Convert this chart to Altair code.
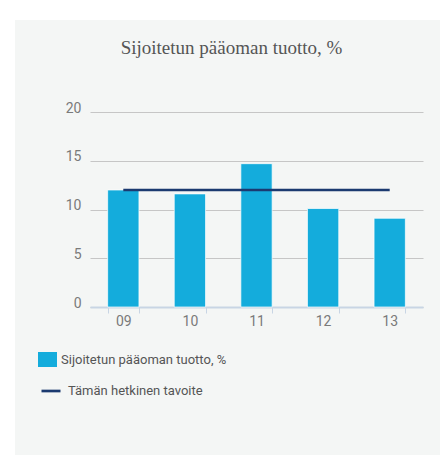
import altair as alt
import pandas as pd

years = ["09", "10", "11", "12", "13"]
roce = [12.0, 11.6, 14.7, 10.1, 9.1]
target = [12.0, 12.0, 12.0, 12.0, 12.0]
bar_name = "Sijoitetun pääoman tuotto, %"
line_name = "Tämän hetkinen tavoite"
title_text = "Sijoitetun pääoman tuotto, %"

df = pd.DataFrame({"year": years, "value": roce, "target": target,
                   "s_bar": bar_name, "s_line": line_name})

BAR = "#14acdc"
NAVY = "#1b3a70"
PANEL = "#f4f6f5"
GREY = "#7a7a7a"
TXT = "#555555"

x = alt.X("year:N", sort=years, title=None,
          scale=alt.Scale(paddingInner=0.53, paddingOuter=0.265),
          axis=alt.Axis(labelAngle=0, labelFont="Roboto", labelFontSize=14,
                        labelColor=GREY, labelPadding=1, domainColor="#c8d5e4",
                        domainWidth=2, tickColor="#c8d5e4", tickSize=6,
                        tickWidth=1, tickBand="extent", grid=False))

y = alt.Y("value:Q", title=None,
          scale=alt.Scale(domain=[0, 20]),
          axis=alt.Axis(values=[0, 5, 10, 15, 20], labelFont="Roboto",
                        labelFontSize=14, labelColor=GREY, labelPadding=9,
                        labelBaseline="alphabetic", domain=False, ticks=False,
                        grid=True, gridColor="#c6c6c6", gridWidth=1))

# white strips so the grey panel starts where the reference's does
strip_top = alt.Chart(df).mark_rect(color="white").encode(
    x=alt.value(-82), x2=alt.value(350), y=alt.value(-104), y2=alt.value(-92))
strip_left = alt.Chart(df).mark_rect(color="white").encode(
    x=alt.value(-82), x2=alt.value(-75), y=alt.value(-104), y2=alt.value(343))

bars = alt.Chart(df).mark_bar(stroke="white", strokeWidth=1, strokeOpacity=0.7).encode(
    x=x, y=y,
    fill=alt.Fill("s_bar:N", title=None,
                  scale=alt.Scale(domain=[bar_name], range=[BAR]),
                  legend=alt.Legend(orient="none", legendX=-50, legendY=240,
                                    symbolType="M-1.27,-1H1.27V1H-1.27Z",
                                    symbolSize=225, symbolStrokeWidth=0,
                                    labelFont="Roboto", labelFontSize=13,
                                    labelLimit=400,
                                    labelColor=TXT, labelOffset=6)))

line = alt.Chart(df).mark_line(strokeWidth=2.7).encode(
    x=x, y=alt.Y("target:Q"),
    stroke=alt.Stroke("s_line:N", title=None,
                      scale=alt.Scale(domain=[line_name], range=[NAVY]),
                      legend=alt.Legend(orient="none", legendX=-50, legendY=268,
                                        symbolType="stroke", symbolSize=361,
                                        symbolStrokeWidth=2.7,
                                        labelFont="Roboto", labelFontSize=13,
                                        labelLimit=400,
                                        labelColor=TXT, labelOffset=6)))

chart = alt.layer(strip_top, strip_left, bars, line).properties(
    width=333, height=195,
    background=PANEL,
    padding={"left": 82, "top": 104, "right": 17, "bottom": 148},
    autosize=alt.AutoSizeParams(type="none"),
    title=alt.TitleParams(title_text, font="Liberation Serif", fontSize=19,
                          fontWeight="normal", color=TXT, anchor="middle",
                          baseline="alphabetic",
                          frame="group", dx=-25, dy=65, offset=0),
).configure_view(stroke=None)

chart.save("out.html", embed_options={"renderer": "svg", "actions": False})
